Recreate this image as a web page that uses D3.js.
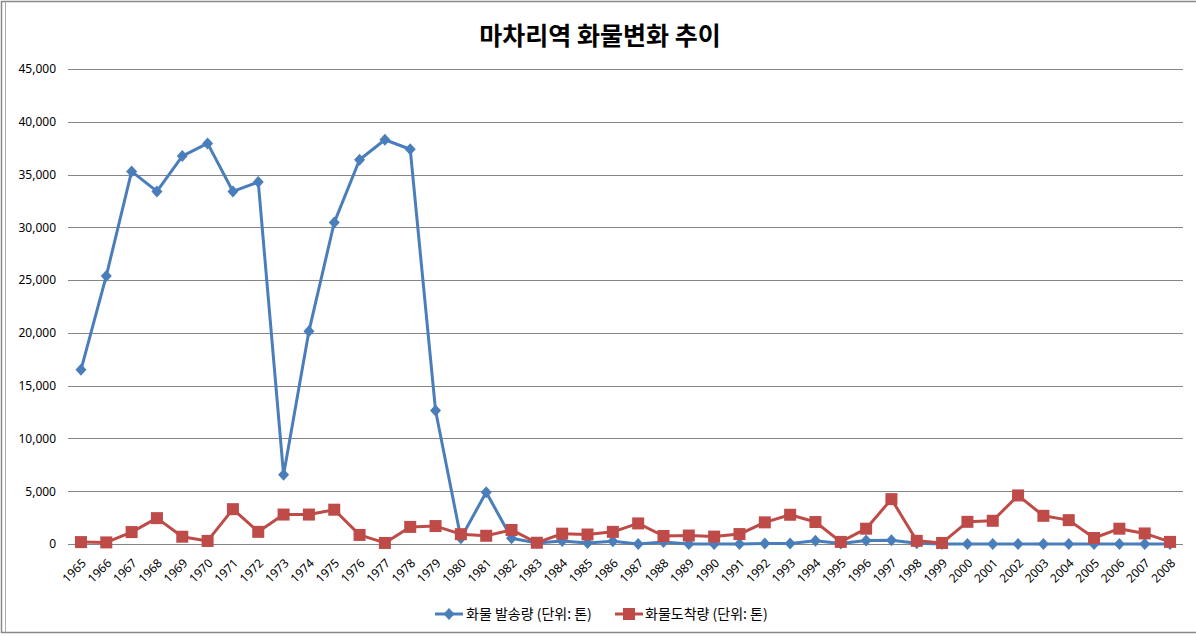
<!DOCTYPE html>
<html><head><meta charset="utf-8">
<script src="https://cdn.jsdelivr.net/npm/d3@7"></script>
<style>
body{margin:0;background:#fff;}
svg{display:block;font-family:"Noto Sans CJK KR","Noto Sans",sans-serif;}
</style></head>
<body>
<svg id="c" width="1196" height="636"></svg>
<script>
const title = "마차리역 화물변화 추이";
const years = ["1965","1966","1967","1968","1969","1970","1971","1972","1973","1974","1975","1976","1977","1978","1979","1980","1981","1982","1983","1984","1985","1986","1987","1988","1989","1990","1991","1992","1993","1994","1995","1996","1997","1998","1999","2000","2001","2002","2003","2004","2005","2006","2007","2008"];
const seriesNames = ["화물 발송량 (단위: 톤)", "화물도착량 (단위: 톤)"];
const shipped = [16500,25400,35300,33400,36750,37950,33400,34300,6550,20150,30450,36400,38300,37400,12650,550,4900,550,100,280,100,250,0,200,0,0,0,50,50,300,50,330,350,80,0,0,0,0,0,0,0,0,0,0];
const arrived = [180,150,1130,2450,690,290,3300,1150,2790,2790,3250,860,100,1620,1700,930,780,1330,120,980,900,1150,1950,760,800,700,940,2050,2770,2080,200,1450,4250,300,100,2100,2200,4600,2670,2260,570,1450,1000,200];
const yTicks = [0,5000,10000,15000,20000,25000,30000,35000,40000,45000];

const svg = d3.select("#c");
svg.append("rect").attr("x",1.5).attr("y",1.5).attr("width",1196).attr("height",631)
  .attr("fill","none").attr("stroke","#888").attr("stroke-width",1.5);
svg.append("line").attr("x1",5.5).attr("x2",5.5).attr("y1",1.5).attr("y2",632).attr("stroke","#aaa");

const x = d3.scaleBand().domain(years).range([68.3,1182.7]);
const y = d3.scaleLinear().domain([0,45000]).range([544,69]);

svg.append("g").selectAll("line").data(yTicks).join("line")
  .attr("x1",68).attr("x2",1183).attr("y1",d=>Math.round(y(d))+0.5).attr("y2",d=>Math.round(y(d))+0.5)
  .attr("stroke","#868686").attr("stroke-width",1);

const fmt = d3.format(",");
const ya = svg.append("g").attr("transform","translate(56,0)")
  .call(d3.axisLeft(y).tickValues(yTicks).tickFormat(fmt).tickSize(0).tickPadding(0));
ya.select(".domain").remove();
ya.selectAll("text").attr("font-size",12).attr("fill","#000").attr("font-family","'Noto Sans','DejaVu Sans',sans-serif");

const xa = svg.append("g").attr("transform","translate(0,548)")
  .call(d3.axisBottom(x).tickSize(0).tickPadding(0));
xa.select(".domain").remove();
xa.selectAll("text").attr("font-size",12).attr("fill","#000")
  .attr("font-family","'Noto Sans','DejaVu Sans',sans-serif")
  .attr("text-anchor","end").attr("dy","0.35em")
  .attr("transform","translate(3,13) rotate(-45)");

const cx = d => x(d) + x.bandwidth()/2;
const line = d3.line().x((d,i)=>cx(years[i])).y(d=>y(d));
const diamondPath = "M0,-6L5.5,0L0,6L-5.5,0Z";

const colors = ["#4a7ebb","#be4b48"];
svg.append("path").datum(shipped).attr("d",line).attr("fill","none")
  .attr("stroke",colors[0]).attr("stroke-width",3).attr("stroke-linejoin","round");
svg.append("g").selectAll("path").data(shipped).join("path")
  .attr("d",diamondPath).attr("transform",(d,i)=>`translate(${cx(years[i])},${y(d)})`)
  .attr("fill",colors[0]);
svg.append("path").datum(arrived).attr("d",line).attr("fill","none")
  .attr("stroke",colors[1]).attr("stroke-width",3).attr("stroke-linejoin","round");
svg.append("g").selectAll("rect").data(arrived).join("rect")
  .attr("x",(d,i)=>cx(years[i])-6).attr("y",d=>y(d)-6).attr("width",12).attr("height",12)
  .attr("fill",colors[1]);

svg.append("text").attr("x",600).attr("y",45).attr("text-anchor","middle")
  .attr("font-size",25).attr("font-weight","bold").attr("fill","#000").text(title);

const lg = [{x1:435,x2:463,tx:466},{x1:615,x2:643,tx:645}];
lg.forEach((l,i)=>{
  svg.append("line").attr("x1",l.x1).attr("x2",l.x2).attr("y1",614).attr("y2",614)
    .attr("stroke",colors[i]).attr("stroke-width",3);
  if(i===0){
    svg.append("path").attr("d",diamondPath).attr("transform",`translate(${(l.x1+l.x2)/2},614)`).attr("fill",colors[0]);
  } else {
    svg.append("rect").attr("x",(l.x1+l.x2)/2-6).attr("y",608).attr("width",12).attr("height",12).attr("fill",colors[1]);
  }
  svg.append("text").attr("x",l.tx).attr("y",619).attr("font-size",14).attr("fill","#000").text(seriesNames[i]);
});
</script>
</body></html>
